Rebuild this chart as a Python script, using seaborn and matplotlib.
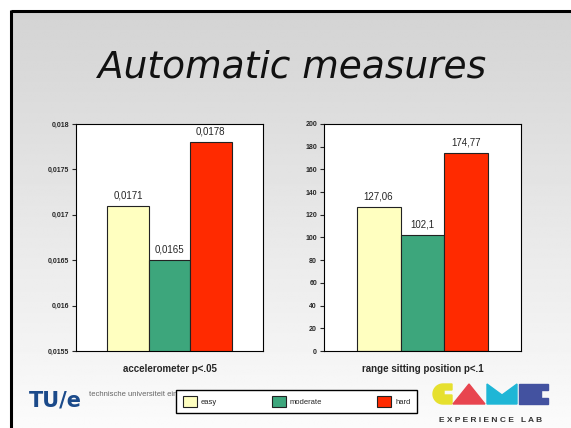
import numpy as np
import pandas as pd
import matplotlib
matplotlib.use("Agg")
import matplotlib.pyplot as plt
import seaborn as sns
from matplotlib.patches import Polygon
from matplotlib.ticker import FuncFormatter

# Data
levels = ["easy", "moderate", "hard"]
colors = ["#FFFFC0", "#3DA67C", "#FF2A00"]
accel_values = [0.0171, 0.0165, 0.0178]
accel_labels = ["0,0171", "0,0165", "0,0178"]
range_values = [127.06, 102.1, 174.77]
range_labels = ["127,06", "102,1", "174,77"]
accel_name = "accelerometer p<.05"
range_name = "range sitting position p<.1"

df_accel = pd.DataFrame({"measure": accel_name, "level": levels, "value": accel_values})
df_range = pd.DataFrame({"measure": range_name, "level": levels, "value": range_values})

sns.set_style("white")
plt.rcParams['font.family'] = ['Liberation Sans', 'DejaVu Sans']

fig = plt.figure(figsize=(5.71, 4.28), dpi=100)
fig.patch.set_facecolor("white")

# ---------------------------
# slide background
# ---------------------------
bg = fig.add_axes([0, 0, 1, 1], zorder=-1)
grad = np.linspace(0.83, 0.985, 200)[:, None] * np.ones((1, 50))
bg.imshow(grad, cmap="gray", vmin=0, vmax=1, aspect="auto",
          extent=(12, 571, 428, 12), interpolation="bilinear")
bg.plot([10.5, 571], [10.5, 10.5], color="black", lw=2.2, solid_capstyle="butt")
bg.plot([10.5, 10.5], [9.5, 428], color="black", lw=2.2, solid_capstyle="butt")

# GAME logo
th = np.linspace(np.pi / 2, 3 * np.pi / 2, 20)
g_pts = [(452, 384), (452, 390), (444, 390), (444, 395), (452, 395), (452, 404)]
g_pts += [(443 + 10 * np.cos(t), 394 + 10 * np.sin(t)) for t in th]
bg.add_patch(Polygon(g_pts, closed=True, color="#E6E02E"))
bg.add_patch(Polygon([(453, 404), (485, 404), (469, 384)], closed=True, color="#E8454F"))
bg.add_patch(Polygon([(487, 384), (502, 395), (517, 384), (517, 404), (487, 404)],
                     closed=True, color="#1FB6D6"))
bg.add_patch(Polygon([(519, 384), (548, 384), (548, 390), (541, 390), (541, 398),
                      (548, 398), (548, 404), (519, 404)], closed=True, color="#4352A0"))
bg.set_xlim(0, 571)
bg.set_ylim(428, 0)
bg.axis("off")

fig.text(292 / 571, 1 - 68 / 428, "Automatic measures", ha="center", va="center",
         fontsize=27, style="italic", color="#111111", family=["DejaVu Sans"])
fig.text(29 / 571, 1 - 400 / 428, "TU/e", ha="left", va="center",
         fontsize=15, weight="bold", color="#1B4A8A", family=["DejaVu Sans"])
fig.text(89 / 571, 1 - 394 / 428, "technische universiteit eindhoven", ha="left",
         va="center", fontsize=5.5, color="#666666")
fig.text(491 / 571, 1 - 421 / 428, "E X P E R I E N C E   L A B", ha="center",
         va="center", fontsize=6, weight="bold", color="#333333")

# ---------------------------
# Graph 1 and Graph 2
# ---------------------------
ax1 = fig.add_axes([76 / 571, 1 - 351 / 428, 187 / 571, 227 / 428])
ax2 = fig.add_axes([324 / 571, 1 - 351 / 428, 197 / 571, 227 / 428])

panels = [
    (ax1, df_accel, accel_labels, (0.0155, 0.018), np.arange(0.0155, 0.01801, 0.0005), 0.603),
    (ax2, df_range, range_labels, (0, 200), np.arange(0, 201, 20), 0.597),
]

for ax, data, labels, ylim, ticks, half in panels:
    sns.barplot(data=data, x="measure", y="value", hue="level", palette=colors,
                width=0.8, edgecolor="#222222", linewidth=0.8, saturation=1, ax=ax)
    for cont, lab in zip(ax.containers, labels):
        ax.bar_label(cont, labels=[lab], padding=4, fontsize=7)
    ax.set_facecolor("white")
    ax.set_xlim(-half, half)
    ax.set_ylim(*ylim)
    ax.set_yticks(ticks)
    ax.yaxis.set_major_formatter(FuncFormatter(lambda v, p: f"{v:.4g}".replace(".", ",")))
    ax.set_xlabel("")
    ax.set_ylabel("")
    ax.tick_params(axis="y", direction="out", length=3, width=0.8, labelsize=5,
                   left=True, pad=2)
    ax.tick_params(axis="x", length=0, labelsize=7, pad=9)
    for lbl in ax.get_yticklabels():
        lbl.set_fontweight("bold")
    for lbl in ax.get_xticklabels():
        lbl.set_fontweight("bold")
    for sp in ax.spines.values():
        sp.set_visible(True)
        sp.set_color("black")
        sp.set_linewidth(0.8)

handles, labs = ax1.get_legend_handles_labels()
ax1.get_legend().remove()
ax2.get_legend().remove()

leg = fig.legend(handles, labs, ncol=3, loc="center",
                 bbox_to_anchor=(296.5 / 571, 1 - 401.5 / 428), fontsize=5.5,
                 frameon=True, fancybox=False, edgecolor="black", framealpha=1,
                 handlelength=1.85, handleheight=1.85, handletextpad=0.5,
                 columnspacing=7.2, borderpad=0.8)
leg.get_frame().set_linewidth(1)

plt.savefig("out.png", dpi=100)
